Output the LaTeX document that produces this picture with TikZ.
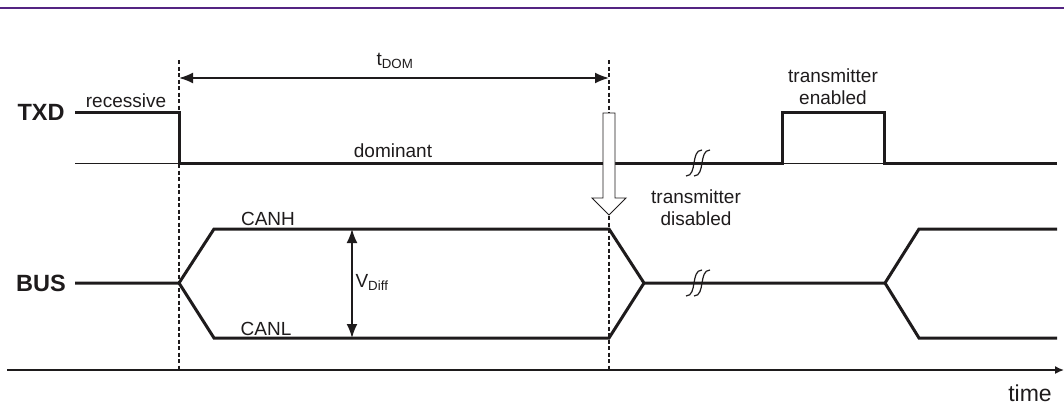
\documentclass[tikz,border=0pt]{standalone}
\usepackage{fontspec}
\setmainfont{Liberation Sans}
\usetikzlibrary{arrows.meta}
\definecolor{ink}{RGB}{30,27,28}
\definecolor{rule}{RGB}{84,36,130}
\begin{document}
\begin{tikzpicture}[x=1pt,y=-1pt,
  lbl/.style={text=ink,inner sep=0pt,font=\fontsize{19}{22}\selectfont,anchor=base},
  bigl/.style={text=ink,inner sep=0pt,font=\fontsize{23.5}{26}\selectfont\bfseries,anchor=base},
  sig/.style={draw=ink,line width=3pt,line join=miter},
  base/.style={draw=ink,line width=1pt},
  guide/.style={draw=ink,line width=1.3pt,dash pattern=on 4pt off 2.5pt},
  dim/.style={draw=ink,line width=1.8pt,{Latex[length=14pt,width=11pt]}-{Latex[length=14pt,width=11pt]}},
  brk/.pic={\draw[ink,line width=1.2pt] (-12,13) .. controls (-6,13) and (-5,6) .. (-4,0) .. controls (-3,-6) and (-2,-13) .. (4,-13);
            \draw[ink,line width=1.2pt] (-4,13) .. controls (2,13) and (3,6) .. (4,0) .. controls (5,-6) and (6,-13) .. (12,-13);}
]
\useasboundingbox (0,0) rectangle (1064,405);
% top rule
\draw[rule,line width=1.5pt] (0,8) -- (1064,8);

% labels
\node[bigl] (txd) at (41,120) {TXD};
\node[bigl] (bus) at (41,291) {BUS};
\node[lbl] (rec) at (126,107) {recessive};
\node[lbl] (dom) at (393,157) {dominant};
\node[lbl] (tdom) at (395,65) {t\textsubscript{DOM}};
\node[lbl,align=center] (ten) at (833,104) {transmitter\\enabled};
\node[lbl,align=center] (tdis) at (696,225) {transmitter\\disabled};
\node[lbl] (canh) at (268,225) {CANH};
\node[lbl] (canl) at (266,335) {CANL};
\node[lbl] (vdiff) at (372,287) {V\textsubscript{Diff}};
\node[lbl,font=\fontsize{23}{26}\selectfont] (time) at (1030,401) {time};

% coordinates
\coordinate (t0) at (75,112);
\coordinate (t1) at (179,112);
\coordinate (t2) at (179,163);
\coordinate (t3) at (782,163);
\coordinate (t4) at (782,112);
\coordinate (t5) at (884,112);
\coordinate (t6) at (884,163);
\coordinate (t7) at (1057,163);
\coordinate (tb) at (75,163);

\coordinate (b0) at (75,283);
\coordinate (b1) at (179,283);
\coordinate (h1) at (214,229);
\coordinate (l1) at (214,338);
\coordinate (h2) at (609,229);
\coordinate (l2) at (609,338);
\coordinate (b2) at (644,283);
\coordinate (b3) at (885,283);
\coordinate (h3) at (919,229);
\coordinate (l3) at (919,338);
\coordinate (h4) at (1057,229);
\coordinate (l4) at (1057,338);

\coordinate (g1t) at (179,60);
\coordinate (g1b) at (179,370);
\coordinate (g2t) at (609,60);
\coordinate (g2b) at (609,370);
\coordinate (ax0) at (7,370);
\coordinate (ax1) at (1064,370);

% thin baselines
\draw[base] (tb) -- (t2);
\draw[base] (t3) -- (t6);

% guides
\draw[guide] (g1t) -- (g1b);
\draw[guide] (g2t) -- (g2b);

% TXD
\draw[sig] (t0) -- (t1) -- (t2) -- (t3) -- (t4) -- (t5) -- (t6) -- (t7);
% BUS
\draw[sig] (b0) -- (b1) -- (h1) -- (h2) -- (b2) -- (b3) -- (h3) -- (h4);
\draw[sig] (b1) -- (l1) -- (l2) -- (b2);
\draw[sig] (b3) -- (l3) -- (l4);

% breaks
\pic at (698,163) {brk};
\pic at (698,283) {brk};

% dimension arrows
\draw[dim] (179,78) coordinate (d1) -- (609,78) coordinate (d2);
\draw[dim] (352,229) coordinate (v1) -- (352,338) coordinate (v2);

% hollow arrow
\draw[ink,line width=0.9pt,fill=white] (603,113) -- (615,113) -- (615,198) -- (626,198) -- (609,215) -- (592,198) -- (603,198) -- cycle;

% time axis
\draw[ink,line width=1.6pt,-{Latex[length=9pt,width=8pt]}] (ax0) -- (ax1);
\end{tikzpicture}
\end{document}
